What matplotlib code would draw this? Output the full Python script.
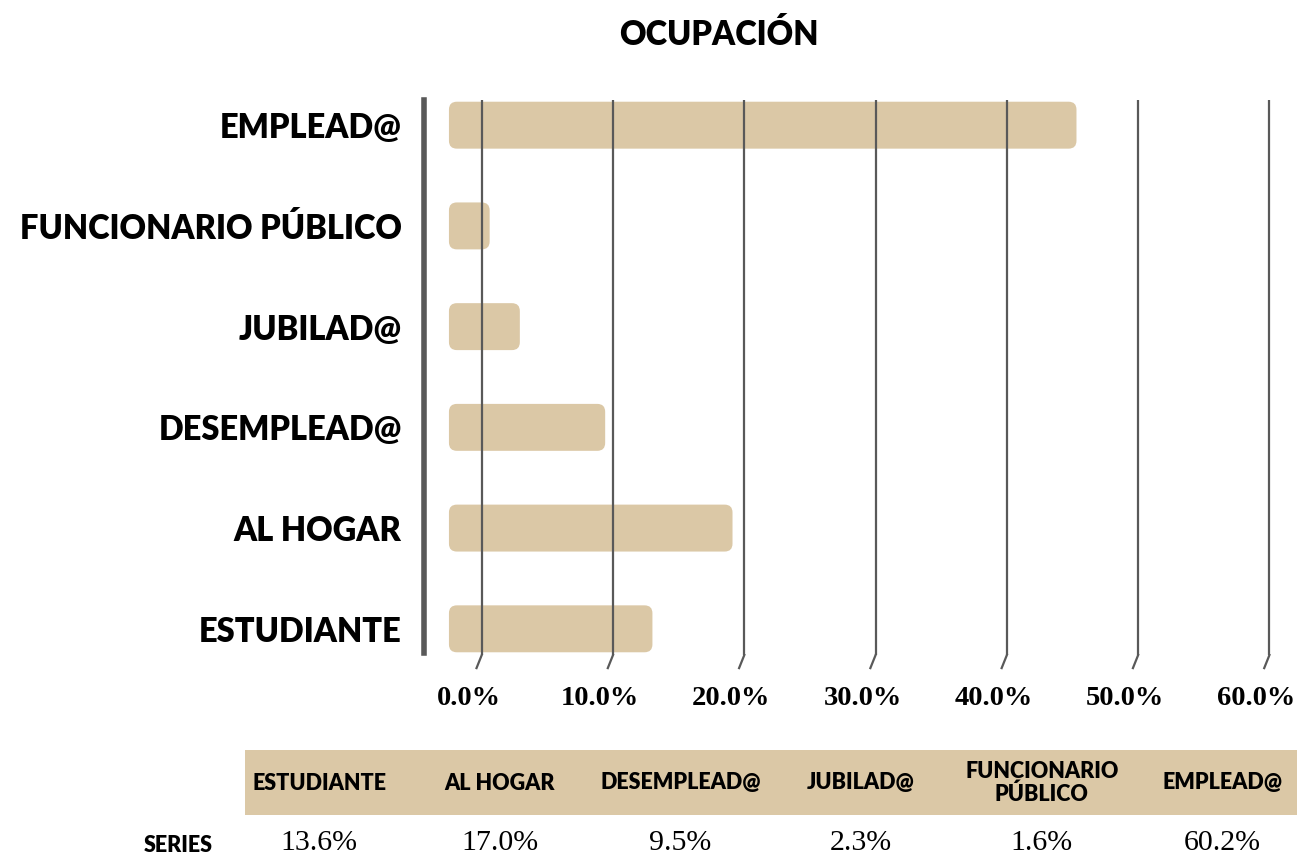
import numpy as np
import matplotlib.pyplot as plt
import matplotlib.transforms as mtrans
from matplotlib.patches import FancyBboxPatch, Rectangle

# categories bottom -> top as in the chart
categories = ["ESTUDIANTE", "AL HOGAR", "DESEMPLEAD@", "JUBILAD@",
              "FUNCIONARIO PÚBLICO", "EMPLEAD@"]
# bar ends (percent)
bar_values = [13.0, 19.1, 9.4, 2.9, 0.6, 45.3]
# values printed in the data table under the chart
table_labels = ["ESTUDIANTE", "AL HOGAR", "DESEMPLEAD@", "JUBILAD@",
                "FUNCIONARIO\nPÚBLICO", "EMPLEAD@"]
table_values = [13.6, 17.0, 9.5, 2.3, 1.6, 60.2]
xticks = [0, 10, 20, 30, 40, 50, 60]

bar_color = "#dbc8a6"
grid_color = "#595959"
head_font = ["Lato", "DejaVu Sans"]
num_font = ["Liberation Serif", "DejaVu Serif"]

W, H = 1299, 857
fig = plt.figure(figsize=(W / 100, H / 100), dpi=100)
ax = fig.add_axes([424 / W, (H - 655) / H, (W - 424) / W, 555 / H])
ax.set_xlim(-4.4, 62.25)
ax.set_ylim(-0.26, 5.25)

ypos = np.arange(len(categories))
bar_h = 0.466
bar_left = -2.5
for y, v in zip(ypos, bar_values):
    ax.add_patch(FancyBboxPatch((bar_left, y - bar_h / 2), v - bar_left, bar_h,
                                boxstyle="round,pad=0,rounding_size=0.6",
                                mutation_aspect=13.1 / 100.8,
                                fc=bar_color, ec="none", zorder=1))

# gridlines with the little slanted foot of the 3D floor
for t in xticks:
    ax.axvline(t, color=grid_color, lw=1.6, zorder=2)
    ax.plot([t, t - 0.4], [-0.26, -0.39], color=grid_color, lw=1.6,
            clip_on=False, zorder=2)

for s in ["top", "right", "bottom"]:
    ax.spines[s].set_visible(False)
ax.spines["left"].set_color(grid_color)
ax.spines["left"].set_linewidth(4)
ax.spines["left"].set_bounds(-0.24, 5.25)

ax.set_yticks(ypos)
ax.set_yticklabels(categories, family=head_font, fontweight="heavy", fontsize=23.5)
ax.tick_params(axis="y", length=0, pad=16)
ax.set_xticks(xticks)
ax.set_xticklabels([f"{t:.1f}%" for t in xticks], family=num_font,
                   fontweight="bold", fontsize=20.5)
ax.tick_params(axis="x", length=0, pad=22)
shift = mtrans.ScaledTranslation(-13 / 100, 0, fig.dpi_scale_trans)
for lab in ax.get_xticklabels():
    lab.set_transform(lab.get_transform() + shift)
ax.set_facecolor("none")

fig.text(719 / W, 1 - 35 / H, "OCUPACIÓN", family=head_font, fontweight="heavy",
         fontsize=23.5, ha="center", va="center")

# data table
fig.patches.append(Rectangle((245 / W, 1 - 815 / H), (1297 - 245) / W, 65 / H,
                             transform=fig.transFigure, fc=bar_color, ec="none"))
for i, (lab, v) in enumerate(zip(table_labels, table_values)):
    cx = (319 + 180.7 * i) / W
    fig.text(cx, 1 - 783 / H, lab, family=head_font, fontweight="heavy",
             fontsize=15.5, ha="center", va="center", linespacing=1.1)
    fig.text(cx, 1 - 843 / H, f"{v:.1f}%", family=num_font, fontsize=21.5,
             ha="center", va="center")
fig.text(213 / W, 1 - 845 / H, "SERIES", family=head_font, fontweight="heavy",
         fontsize=15.5, ha="right", va="center")

fig.savefig("out.png", dpi=100)
